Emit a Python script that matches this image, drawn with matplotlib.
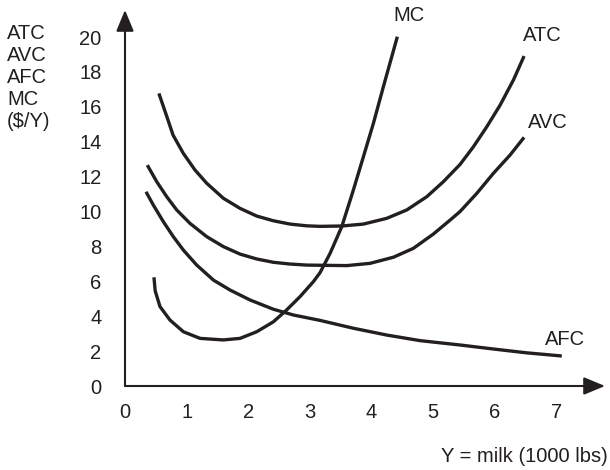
import numpy as np
import matplotlib
matplotlib.use("Agg")
import matplotlib.pyplot as plt
from matplotlib.patches import FancyArrowPatch

# curve points
atc_x = [0.55, 0.68, 0.78, 0.947, 1.136, 1.326, 1.596, 1.867, 2.138, 2.408, 2.679, 2.95,
         3.166, 3.518, 3.869, 4.248, 4.573, 4.898, 5.167, 5.438, 5.654, 5.872, 6.088,
         6.304, 6.477]
atc_y = [16.77, 15.43, 14.38, 13.33, 12.38, 11.62, 10.76, 10.18, 9.74, 9.47, 9.28, 9.18,
         9.15, 9.17, 9.28, 9.61, 10.09, 10.85, 11.71, 12.7, 13.71, 14.86, 16.10, 17.54,
         18.91]

avc_x = [0.362, 0.515, 0.677, 0.839, 1.055, 1.326, 1.596, 1.867, 2.138, 2.408, 2.679,
         2.95, 3.166, 3.599, 3.977, 4.356, 4.68, 5.005, 5.276, 5.438, 5.709, 5.979,
         6.25, 6.477]
avc_y = [12.66, 11.71, 10.85, 10.09, 9.32, 8.56, 7.99, 7.56, 7.28, 7.09, 6.99, 6.93,
         6.92, 6.90, 7.03, 7.38, 7.89, 8.71, 9.51, 10.0, 11.04, 12.19, 13.24, 14.25]

afc_x = [0.341, 0.46, 0.622, 0.784, 0.947, 1.164, 1.435, 1.705, 2.029, 2.408, 2.732,
         3.166, 3.706, 4.248, 4.789, 5.438, 5.979, 6.521, 7.089]
afc_y = [11.13, 10.37, 9.42, 8.56, 7.79, 6.93, 6.07, 5.5, 4.93, 4.40, 4.07, 3.76, 3.31,
         2.92, 2.60, 2.35, 2.12, 1.9, 1.72]

mc_x = [0.47, 0.49, 0.568, 0.73, 0.947, 1.218, 1.596, 1.867, 2.138, 2.408, 2.624,
        2.84, 3.057, 3.166, 3.328, 3.518, 3.706, 3.869, 4.031, 4.193, 4.329, 4.42]
mc_y = [6.23, 5.45, 4.55, 3.78, 3.11, 2.73, 2.64, 2.73, 3.11, 3.68, 4.36, 5.12, 5.98,
        6.5, 7.6, 9.13, 11.23, 13.14, 15.05, 17.15, 18.87, 20.02]

x_ticks = [0, 1, 2, 3, 4, 5, 6, 7]
y_ticks = [0, 2, 4, 6, 8, 10, 12, 14, 16, 18, 20]

ink = "#231f20"
plt.rcParams["font.family"] = ["Liberation Sans", "DejaVu Sans"]
fs = 14.5

W, H = 610, 470
fig = plt.figure(figsize=(W / 100, H / 100), dpi=100)
# axes: origin at pixel (125, 386), arrow tips at x=605 and y=10
ax = fig.add_axes([125 / W, 84 / H, 480 / W, 376 / H])
xmax, ymax = 7.79, 21.55
ax.set_xlim(0, xmax)
ax.set_ylim(0, ymax)

for s in ax.spines.values():
    s.set_visible(False)

ax.set_xticks(x_ticks)
ax.set_yticks(y_ticks)
ax.tick_params(length=0, labelsize=fs, colors=ink)
ax.tick_params(axis="x", pad=12)
ax.tick_params(axis="y", pad=17)

lw = 2.4
for xs, ys in [(atc_x, atc_y), (avc_x, avc_y), (afc_x, afc_y), (mc_x, mc_y)]:
    ax.plot(xs, ys, color=ink, lw=lw, solid_capstyle="butt", solid_joinstyle="round")

# axes with arrowheads
for end in [(xmax, 0), (0, ymax)]:
    arr = FancyArrowPatch((0, 0), end, arrowstyle="-|>,head_length=13,head_width=5.4",
                          mutation_scale=1, color=ink, lw=1.5, clip_on=False,
                          shrinkA=0, shrinkB=0)
    ax.add_patch(arr)

# curve labels
ax.text(4.61, 21.26, "MC", fontsize=fs, color=ink, ha="center", va="center", clip_on=False)
ax.text(6.46, 20.1, "ATC", fontsize=fs, color=ink, ha="left", va="center")
ax.text(6.54, 15.13, "AVC", fontsize=fs, color=ink, ha="left", va="center")
ax.text(6.82, 2.69, "AFC", fontsize=fs, color=ink, ha="left", va="center")

fig.text(7 / W, 1 - 24 / H, "ATC\nAVC\nAFC\nMC\n($/Y)", fontsize=fs, color=ink,
         ha="left", va="top", linespacing=1.2)
fig.text(608 / W, 1 - 457 / H, "Y = milk (1000 lbs)", fontsize=fs, color=ink,
         ha="right", va="center")

fig.savefig("out.png", dpi=100)
